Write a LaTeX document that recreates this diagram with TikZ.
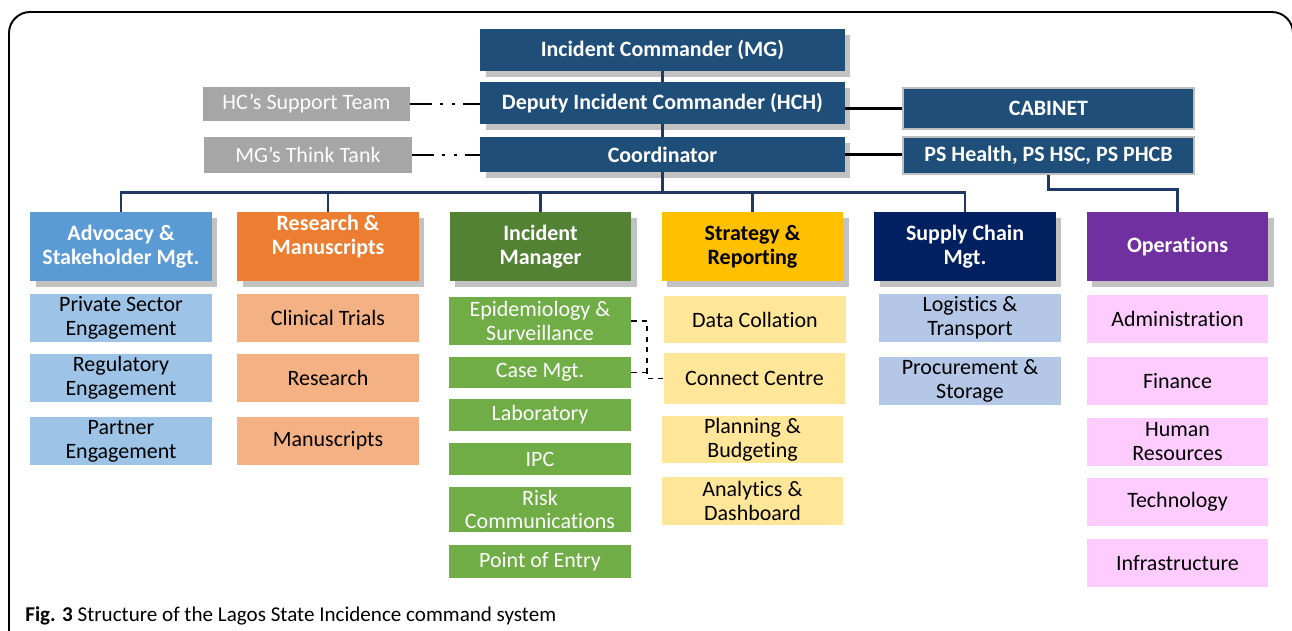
\documentclass[tikz,border=0pt]{standalone}
\usepackage{fontspec}
\setmainfont{Carlito}[Ligatures=NoCommon]
\usetikzlibrary{shadows}

\definecolor{topblue}{HTML}{1F4E79}
\definecolor{lineblue}{HTML}{203864}
\definecolor{boxgray}{HTML}{A6A6A6}
\definecolor{advdark}{HTML}{5B9BD5}
\definecolor{advlight}{HTML}{9DC3E6}
\definecolor{resdark}{HTML}{ED7D31}
\definecolor{reslight}{HTML}{F4B183}
\definecolor{imdark}{HTML}{548235}
\definecolor{imlight}{HTML}{70AD47}
\definecolor{stratdark}{HTML}{FFC000}
\definecolor{stratlight}{HTML}{FFE699}
\definecolor{supdark}{HTML}{002060}
\definecolor{suplight}{HTML}{B4C7E7}
\definecolor{opsdark}{HTML}{7030A0}
\definecolor{opslight}{HTML}{FFCCFF}

\tikzset{
  box/.style={rectangle, inner sep=0pt, align=center, font=\fontsize{12.5}{13.5}\selectfont},
  boxshadow/.style={drop shadow={shadow xshift=0.11cm, shadow yshift=-0.12cm, fill=black!24, opacity=1}},
  cmdbox/.style={box, fill=topblue, text=white, font=\fontsize{12.5}{13.5}\selectfont\bfseries,
    minimum width=7.3cm, minimum height=0.84cm, boxshadow},
  sidebox/.style={box, fill=boxgray, text=white},
  govbox/.style={box, fill=topblue, draw=black!25, line width=0.7pt, text=white,
    font=\fontsize{12.5}{13.5}\selectfont\bfseries, minimum width=5.82cm},
  head/.style={box, text=white, font=\fontsize{12.5}{13.5}\selectfont\bfseries,
    minimum width=3.64cm, minimum height=1.38cm, boxshadow},
  sub/.style={box, minimum width=3.64cm, minimum height=0.96cm},
  bus/.style={draw=lineblue, line width=1.4pt},
  link/.style={draw=black, line width=1.4pt},
  sideline/.style={draw=black, line width=1.4pt,
    dash pattern=on 12.5pt off 4.5pt on 1.4pt off 5.5pt on 1.4pt off 4.5pt on 12pt},
  dotlink/.style={draw=black, line width=1.1pt, dashed}
}

\begin{document}
\begin{tikzpicture}[x=0.02cm, y=-0.02cm]
    \clip (0,0) rectangle (1292,630);
    % frame
    \draw[line width=1.1pt, rounded corners=12] (9,660) -- (9,12) -- (1293,12) -- (1293,660);

    % command line
    \node[cmdbox] (ic) at (662.5,50) {Incident Commander (MG)};
    \node[cmdbox] (dep) at (662.5,103) {Deputy Incident Commander (HCH)};
    \node[cmdbox, minimum height=0.7cm] (coord) at (662.5,154.5) {Coordinator};

    % side boxes
    \node[sidebox, minimum width=4.14cm, minimum height=0.68cm] (hcs) at (306.5,104) {HC’s Support Team};
    \node[sidebox, minimum width=4.16cm, minimum height=0.72cm] (mgt) at (308,155) {MG’s Think Tank};
    \node[govbox, minimum height=0.82cm] (cab) at (1048.5,108.5) {CABINET};
    \node[govbox, minimum height=0.74cm] (ps) at (1048.5,155.5) {PS Health, PS HSC, PS PHCB};

    % headers
    \node[head, fill=advdark] (adv) at (121,246.5) {Advocacy \&\\Stakeholder Mgt.};
    \node[head, fill=resdark] (res) at (328,246.5) {Research \&\\Manuscripts\\\mbox{}};
    \node[head, fill=imdark] (im) at (540.5,246.5) {Incident\\Manager};
    \node[head, fill=stratdark, text=black] (str) at (752.5,246.5) {Strategy \&\\Reporting};
    \node[head, fill=supdark] (sup) at (965,246.5) {Supply Chain\\Mgt.};
    \node[head, fill=opsdark] (ops) at (1177.5,246.5) {Operations};

    % advocacy
    \node[sub, fill=advlight] (adv1) at (121,318) {Private Sector\\Engagement};
    \node[sub, fill=advlight] (adv2) at (121,378) {Regulatory\\Engagement};
    \node[sub, fill=advlight] (adv3) at (121,441) {Partner\\Engagement};

    % research
    \node[sub, fill=reslight] (res1) at (328,318) {Clinical Trials};
    \node[sub, fill=reslight] (res2) at (328,378) {Research};
    \node[sub, fill=reslight] (res3) at (328,441) {Manuscripts};

    % incident manager
    \node[sub, fill=imlight, text=white] (epi) at (540,321) {Epidemiology \&\\Surveillance};
    \node[sub, fill=imlight, text=white, minimum height=0.62cm] (case) at (540,372.5) {Case Mgt.};
    \node[sub, fill=imlight, text=white, minimum height=0.64cm] (lab) at (540,415) {Laboratory};
    \node[sub, fill=imlight, text=white, minimum height=0.64cm] (ipc) at (540,459) {IPC};
    \node[sub, fill=imlight, text=white, minimum height=0.9cm] (risk) at (540,509.5) {Risk\\Communications};
    \node[sub, fill=imlight, text=white, minimum height=0.66cm] (poe) at (540,561.5) {Point of Entry};

    % strategy
    \node[sub, fill=stratlight, minimum height=0.94cm] (data) at (755,319.5) {Data Collation};
    \node[sub, fill=stratlight, minimum height=1.02cm] (cc) at (754.5,378.5) {Connect Centre};
    \node[sub, fill=stratlight, minimum height=0.94cm] (plan) at (752.5,439.5) {Planning \&\\Budgeting};
    \node[sub, fill=stratlight] (ana) at (752.5,501) {Analytics \&\\Dashboard};

    % supply chain
    \node[sub, fill=suplight] (log) at (970,318) {Logistics \&\\Transport};
    \node[sub, fill=suplight] (proc) at (970,381) {Procurement \&\\Storage};

    % operations
    \node[sub, fill=opslight] (adm) at (1177.5,319) {Administration};
    \node[sub, fill=opslight] (fin) at (1177.5,381) {Finance};
    \node[sub, fill=opslight] (hr) at (1177.5,441.5) {Human\\Resources};
    \node[sub, fill=opslight] (tech) at (1177.5,502) {Technology};
    \node[sub, fill=opslight] (infra) at (1177.5,563) {Infrastructure};

    % connectors
    \draw[bus] (ic) -- (dep) -- (coord);
    \foreach \h in {adv,res,im,str,sup}
        \draw[bus] (coord.south) -- ++(0,20) -| (\h.north);
    \draw[bus] (ps.south) -- ++(0,15) -| (ops.north);
    \draw[link] (dep.east |- cab.west) -- (cab.west);
    \draw[link] (coord.east) -- (coord.east -| ps.west);
    \draw[sideline] (hcs.east) -- (hcs.east -| dep.west);
    \draw[sideline] (mgt.east) -- (mgt.east -| coord.west);
    \draw[dotlink] (epi.east) -- ++(16,0) |- (cc.west);
    \draw[dotlink] (case.east) -- ++(16,0);

    % caption
    \node[anchor=base west, inner sep=0pt, font=\fontsize{12}{14}\selectfont] (cap) at (25,621)
        {\textbf{Fig. 3} Structure of the Lagos State Incidence command system};
\end{tikzpicture}
\end{document}
